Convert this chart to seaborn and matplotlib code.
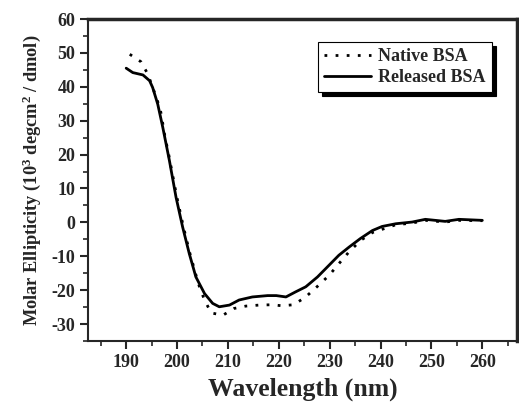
import matplotlib
matplotlib.use('Agg')
import matplotlib.pyplot as plt
from matplotlib.ticker import MultipleLocator
import seaborn as sns
import pandas as pd

# CD spectra
native_wl = [190.7, 192.9, 194.2, 195.1, 195.9, 196.7, 197.1, 197.5, 198.0, 198.4, 199.9,
             201.2, 202.5, 203.8, 204.4, 205.4, 206.7, 209.0, 211.2, 213.5, 216.1, 218.7,
             220.6, 222.9, 225.2, 227.5, 229.9, 231.8, 233.8, 236.1, 238.4, 243, 246.2,
             248.8, 252.7, 255.4, 260]
native_me = [49.6, 47.4, 43.9, 40.3, 36.9, 33.4, 30.0, 26.3, 22.6, 19.7, 7.9,
             -1.0, -9.0, -16.0, -19.0, -22.9, -26.7, -27.4, -25.4, -24.7, -24.4, -24.3,
             -24.6, -24.3, -22.1, -19.0, -15.6, -12.2, -8.7, -5.3, -3.0, -0.7, -0.2,
             0.6, 0.1, 0.6, 0.5]

released_wl = [190, 191.3, 193.3, 194.6, 195.2, 196.2, 197.2, 198.5, 199.8, 201.1, 202.4,
               203.7, 205.4, 207.0, 208.3, 210.3, 212.2, 214.8, 217.8, 219.5, 221.4, 223.3,
               225.3, 227.6, 229.9, 231.8, 233.8, 236.0, 238.4, 240.3, 243, 246.2, 248.8,
               252.7, 255.4, 260]
released_me = [45.5, 44.2, 43.5, 41.8, 39.8, 34.9, 28.0, 18.2, 7.4, -1.4, -9.2,
               -16.1, -21.0, -23.9, -24.9, -24.4, -22.9, -22.0, -21.6, -21.6, -22.0, -20.5,
               -19.0, -16.1, -12.6, -9.7, -7.3, -4.8, -2.4, -1.2, -0.4, 0.1, 0.9,
               0.3, 0.9, 0.6]

labels = ['Native BSA', 'Released BSA']

df = pd.concat([
    pd.DataFrame({'wl': native_wl, 'me': native_me, 'sample': labels[0]}),
    pd.DataFrame({'wl': released_wl, 'me': released_me, 'sample': labels[1]}),
])

sns.set_style('ticks')
plt.rcParams['font.family'] = ['Liberation Serif', 'DejaVu Serif']
plt.rcParams['font.weight'] = 'bold'
plt.rcParams['axes.unicode_minus'] = False
plt.rcParams['mathtext.fontset'] = 'custom'
plt.rcParams['mathtext.rm'] = 'Liberation Serif:bold'
plt.rcParams['mathtext.it'] = 'Liberation Serif:bold'
plt.rcParams['mathtext.bf'] = 'Liberation Serif:bold'

fig = plt.figure(figsize=(5.19, 4.05), dpi=100)
ax = fig.add_axes([0.1696, 0.158, 0.8264, 0.795])

sns.lineplot(data=df, x='wl', y='me', hue='sample', style='sample',
             palette=['black', 'black'], dashes={labels[0]: (1, 3), labels[1]: ''},
             estimator=None, sort=False, linewidth=2, ax=ax)

ax.set_xlim(182.5, 266.8)
ax.set_ylim(-35, 60)
ax.set_xticks(range(190, 261, 10))
ax.xaxis.set_minor_locator(MultipleLocator(5))
ax.yaxis.set_major_locator(MultipleLocator(10))
ax.yaxis.set_minor_locator(MultipleLocator(5))
ax.tick_params(which='major', direction='out', length=6, width=1.5, labelsize=13, pad=3)
ax.tick_params(which='minor', direction='out', length=3.5, width=1.2)
for lab in ax.get_xticklabels() + ax.get_yticklabels():
    lab.set_fontweight('bold')

for s in ['left', 'bottom']:
    ax.spines[s].set_linewidth(1.5)
for s in ['top', 'right']:
    ax.spines[s].set_linewidth(2.5)

ax.set_xlabel('Wavelength (nm)', fontsize=18.5, fontweight='bold', labelpad=5)
ax.set_ylabel('Molar Ellipticity (10$^3$ degcm$^2$ / dmol)', fontsize=13.2,
              fontweight='bold', labelpad=6)

leg = ax.legend(loc='upper right', bbox_to_anchor=(0.942, 0.929), borderaxespad=0,
                frameon=True, fancybox=False, edgecolor='black', framealpha=1,
                shadow={'ox': 3, 'oy': -3, 'facecolor': 'black', 'edgecolor': 'black', 'alpha': 1},
                prop={'family': 'Liberation Serif', 'weight': 'bold', 'size': 13},
                handlelength=2.6, handletextpad=0.4, borderpad=0.35, labelspacing=0.2)
leg.get_frame().set_linewidth(0.8)

fig.savefig('out.png', dpi=100)
